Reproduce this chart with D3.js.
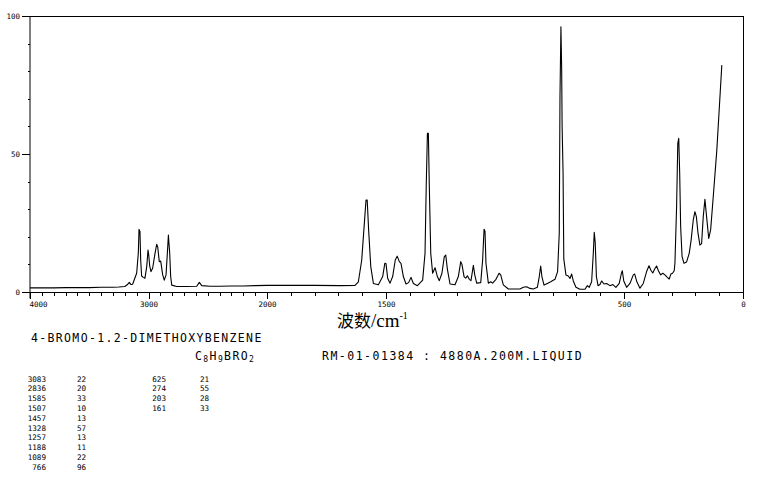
<!DOCTYPE html>
<html>
<head>
<meta charset="utf-8">
<script src="https://cdn.jsdelivr.net/npm/d3@7"></script>
<style>
  body { margin: 0; background: #fff; }
  svg { display: block; }
</style>
</head>
<body>
<svg id="chart" width="765" height="480"></svg>
<script>
// spectrum, wavenumber (cm-1) and relative intensity
var spectrumWn = [4000, 3900, 3800, 3700, 3600, 3500, 3400, 3300, 3250, 3200,
  3180, 3162, 3148, 3134, 3100, 3086, 3080, 3072, 3066, 3058, 3044, 3030, 3015, 3004, 2998,
  2990, 2979, 2965, 2945, 2931, 2922, 2909, 2897, 2880, 2867, 2852, 2841, 2832, 2828, 2821,
  2813, 2804, 2762, 2680, 2593, 2571, 2551, 2481, 2400, 2300, 2200, 2100, 2000, 1900, 1800,
  1693, 1630, 1616, 1602, 1592, 1584, 1579, 1573, 1564, 1553, 1532, 1514, 1505, 1500, 1493,
  1483, 1472, 1461, 1453, 1444, 1437, 1427, 1416, 1405, 1395, 1385, 1368, 1346, 1336, 1331,
  1326, 1322, 1318, 1312, 1304, 1294, 1284, 1276, 1265, 1255, 1249, 1242, 1231, 1210, 1196,
  1186, 1181, 1172, 1165, 1158, 1150, 1143, 1137, 1133, 1127, 1119, 1102, 1094, 1088, 1084,
  1080, 1070, 1060, 1052, 1038, 1025, 1018, 1007, 986, 937, 923, 909, 895, 881, 864,
  856, 850, 845, 836, 822, 808, 790, 779, 772, 769, 765, 762, 760, 756, 753,
  744, 734, 727, 720, 713, 702, 685, 664, 654, 646, 636, 629, 625, 621, 616,
  609, 601, 594, 584, 573, 559, 547, 534, 520, 511, 507, 501, 489, 475, 461,
  455, 446, 433, 419, 405, 395, 387, 379, 370, 363, 354, 346, 337, 328, 318,
  310, 303, 296, 289, 286, 279, 274, 270, 266, 262, 256, 248, 237, 226, 218,
  209, 202, 196, 189, 181, 174, 167, 160, 153, 144, 136, 125, 110, 100, 89];
var spectrumI = [1.5, 1.5, 1.5, 1.6, 1.6, 1.6, 1.7, 1.7, 1.8, 2.0,
  2.6, 3.5, 2.7, 2.8, 6.8, 14, 22.7, 21.9, 11.6, 5.8, 5.3, 5.0, 9.2, 15.2, 13.4,
  9.5, 7.4, 8.6, 14, 17.3, 16.2, 11, 11.2, 6.2, 4.3, 6.2, 14, 20.6, 18, 14,
  5.6, 2.5, 2.0, 2.0, 2.1, 3.5, 2.3, 2.1, 2.1, 2.2, 2.2, 2.3, 2.4, 2.4, 2.4,
  2.3, 2.4, 3.7, 11.6, 23.7, 33.3, 33.3, 22.5, 9.2, 3.1, 2.6, 5.6, 10.4, 10.3, 5.0,
  3.2, 5.6, 11.6, 13, 11, 10.4, 5.6, 2.9, 3.4, 5.3, 3.1, 2.3, 4.3, 14, 38.2,
  57.5, 57.5, 38.2, 14, 6.8, 8.8, 5.6, 4.1, 6.8, 12.8, 13.4, 8.2, 2.9, 2.6, 5.6,
  11, 10, 5.6, 5.0, 5.9, 4.6, 4.1, 7.4, 9.7, 6.2, 3.2, 3.4, 11.6, 22.7, 22,
  10.4, 3.2, 3.7, 3.2, 4.6, 6.8, 6.2, 2.6, 1.1, 1.1, 1.7, 1.9, 1.3, 1.1, 1.7,
  5.6, 9.4, 5.6, 2.5, 3.1, 3.7, 4.6, 7.4, 21.3, 70.8, 96.1, 81.6, 60, 43, 12,
  6.2, 5.8, 4.9, 6.5, 4.0, 1.7, 1.0, 1.0, 2.3, 1.7, 3.7, 14, 21.6, 18, 5.6,
  2.3, 2.7, 4.0, 2.9, 3.1, 2.3, 2.7, 1.7, 3.1, 6.7, 7.7, 4.0, 1.7, 3.1, 6.2,
  6.5, 3.7, 1.4, 3.1, 7.4, 9.5, 7.9, 6.9, 8.5, 9.4, 7.4, 6.2, 6.8, 6.2, 5.3,
  4.7, 6.5, 6.8, 7.7, 10.4, 30.9, 53.9, 55.7, 43, 23.7, 12.8, 10.4, 10.9, 14, 18.8,
  26.1, 29.1, 27.3, 21.3, 17, 17.5, 27.3, 33.6, 27.3, 19.4, 22.5, 34.5, 51.4, 66, 82.2];

// peak list printed under the chart
var peakWn = [3083, 2836, 1585, 1507, 1457, 1328, 1257, 1188, 1089, 766, 625, 274, 203, 161];
var peakInt = [22, 20, 33, 10, 13, 57, 13, 11, 22, 96, 21, 55, 28, 33];

var xTickLabels = [4000, 3000, 2000, 1500, 500, 0];
var yTickLabels = [0, 50, 100];
var yMinorTicks = [0, 10, 20, 30, 40, 50, 60, 70, 80, 90, 100];

var compoundName = "4-BROMO-1.2-DIMETHOXYBENZENE";
var sampleInfo = "RM-01-01384 : 4880A.200M.LIQUID";

var svg = d3.select("#chart");

// the axis is squeezed 2:1 above 2000 cm-1
var x = d3.scaleLinear().domain([4000, 2000, 0]).range([30, 267, 743]);
var y = d3.scaleLinear().domain([0, 100]).range([292, 16]);

var mono = "'DejaVu Sans Mono', monospace";

// frame: top and right edge
svg.append("path")
  .attr("d", "M" + x(4000) + "," + y(100) + "H" + x(0) + "V" + y(0))
  .attr("fill", "none").attr("stroke", "#000").attr("shape-rendering", "crispEdges");

// x axis, minor ticks every 100
var xMinor = d3.axisBottom(x).tickValues(d3.range(0, 4001, 100)).tickSize(3.5).tickFormat("");
svg.append("g").attr("transform", "translate(0," + y(0) + ")").call(xMinor)
  .call(function(g) { g.select(".domain").attr("shape-rendering", "crispEdges"); });

var xMajor = d3.axisBottom(x).tickValues(xTickLabels).tickSize(6.5).tickPadding(3)
  .tickFormat(d3.format("d"));
svg.append("g").attr("transform", "translate(0," + y(0) + ")").call(xMajor)
  .call(function(g) {
    g.select(".domain").remove();
    g.selectAll("text").attr("font-size", 7.5).attr("font-family", mono).attr("fill", "#000");
    g.selectAll(".tick").filter(function(d) { return d === 4000; }).select("text")
      .attr("text-anchor", "start").attr("x", -1);
  });

// y axis
var yMinor = d3.axisLeft(y).tickValues(yMinorTicks).tickSize(2.5).tickFormat("");
svg.append("g").attr("transform", "translate(" + x(4000) + ",0)").call(yMinor)
  .call(function(g) { g.select(".domain").attr("d", "M0," + y(100) + "V" + (y(0) + 6.5)); });

var yMajor = d3.axisLeft(y).tickValues(yTickLabels).tickSize(8).tickPadding(2);
svg.append("g").attr("transform", "translate(" + x(4000) + ",0)").call(yMajor)
  .call(function(g) {
    g.select(".domain").remove();
    g.selectAll("text").attr("font-size", 7.5).attr("font-family", mono).attr("fill", "#000");
  });

svg.selectAll(".tick line").attr("shape-rendering", "crispEdges");

// spectrum
var pts = spectrumWn.map(function(w, i) { return [w, spectrumI[i]]; });
var line = d3.line()
  .x(function(d) { return x(d[0]); })
  .y(function(d) { return y(d[1]); });
svg.append("path").datum(pts)
  .attr("d", line)
  .attr("fill", "none")
  .attr("stroke", "#000")
  .attr("stroke-width", 1.1)
  .attr("stroke-linejoin", "round");

// axis title
var title = svg.append("text").attr("x", 337).attr("y", 327).attr("fill", "#000");
title.append("tspan").attr("font-family", "'Noto Sans CJK SC'").attr("font-size", 17).text("波数");
title.append("tspan").attr("font-family", "'Liberation Serif', serif").attr("font-size", 19).text("/cm");
title.append("tspan").attr("font-family", "'Liberation Serif', serif").attr("font-size", 10)
  .attr("dy", -8).text("-1");

// compound name and sample info
svg.append("text").attr("x", 31).attr("y", 341.5)
  .attr("font-family", mono).attr("font-size", 11.5).attr("letter-spacing", 1.35)
  .text(compoundName);

var formula = svg.append("text").attr("x", 195).attr("y", 360)
  .attr("font-family", mono).attr("font-size", 11.5).attr("letter-spacing", 1.4);
formula.append("tspan").text("C");
formula.append("tspan").attr("font-size", 8).attr("dy", 2).text("8");
formula.append("tspan").attr("dy", -2).text("H");
formula.append("tspan").attr("font-size", 8).attr("dy", 2).text("9");
formula.append("tspan").attr("dy", -2).text("BRO");
formula.append("tspan").attr("font-size", 8).attr("dy", 2).text("2");

svg.append("text").attr("x", 322).attr("y", 360)
  .attr("font-family", mono).attr("font-size", 11.5).attr("letter-spacing", 1.5)
  .text(sampleInfo);

// peak table, 10 rows per column
var rows = peakWn.map(function(w, i) { return { wn: w, v: peakInt[i], col: Math.floor(i / 10), row: i % 10 }; });
var colWnRight = [46, 166];
var colIntLeft = [77, 200];

var table = svg.append("g").attr("font-family", mono).attr("font-size", 7.6).attr("fill", "#000");
table.selectAll(".pw").data(rows).enter().append("text")
  .attr("x", function(d) { return colWnRight[d.col]; })
  .attr("y", function(d) { return 381.5 + d.row * 9.83; })
  .attr("text-anchor", "end")
  .text(function(d) { return d.wn; });
table.selectAll(".pv").data(rows).enter().append("text")
  .attr("x", function(d) { return colIntLeft[d.col]; })
  .attr("y", function(d) { return 381.5 + d.row * 9.83; })
  .text(function(d) { return d.v; });
</script>
</body>
</html>
